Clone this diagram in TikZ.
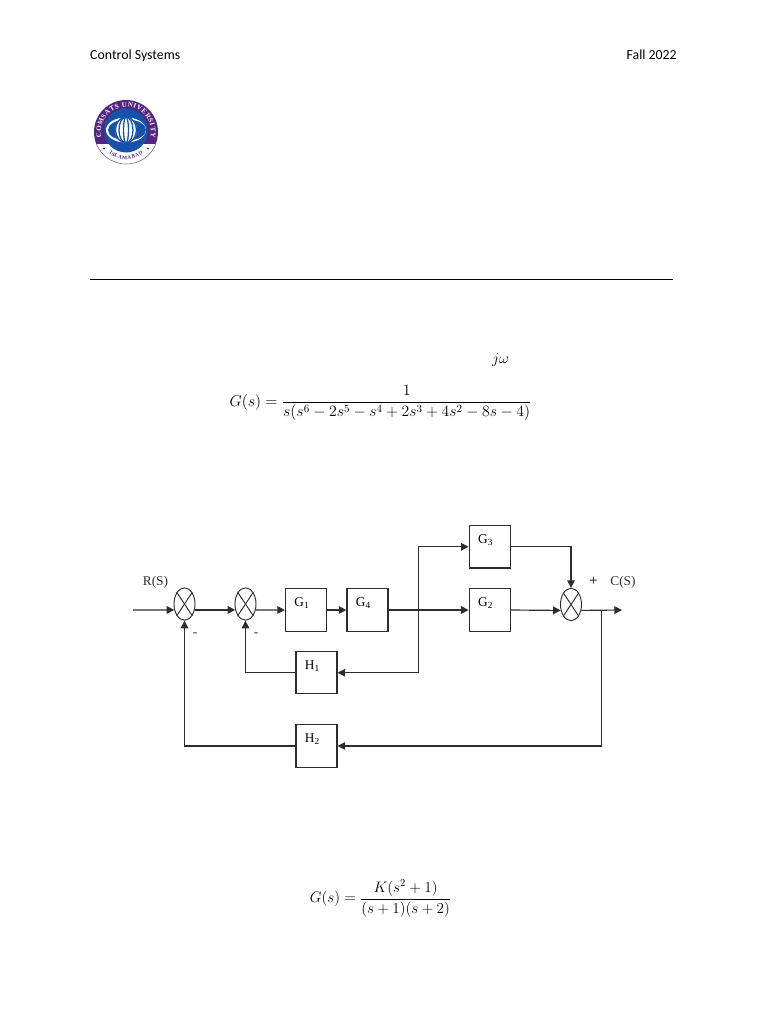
\documentclass[tikz,border=0pt]{standalone}
\usepackage{amsmath,amssymb}
\usepackage{fontspec}
\setmainfont{Carlito}
\newfontfamily\blockfont{Liberation Serif}
\usepackage{tikz}
\usetikzlibrary{shapes,arrows.meta,positioning,calc,decorations.text}
\definecolor{logoPurple}{RGB}{82,38,128}
\definecolor{logoBlue}{RGB}{22,82,168}
\definecolor{wireGray}{RGB}{45,45,45}
\newcommand{\blocktext}[2]{\raisebox{13.5pt}{#1\textsubscript{#2}}\kern7pt}
\tikzset{
  wire/.style={draw=wireGray, line width=1pt},
  flow/.style={wire, -{Triangle[length=6.5pt,width=6.5pt]}},
  blockbox/.style={draw=wireGray, line width=1pt, minimum width=1.23cm, minimum height=1.27cm,
    inner sep=0pt, font=\blockfont\fontsize{11.4}{13}\selectfont},
  sumnode/.style={ellipse, draw=wireGray, line width=0.8pt, minimum width=0.63cm, minimum height=0.97cm, inner sep=0pt},
  tag/.style={font=\blockfont\fontsize{11.4}{13}\selectfont, text=wireGray},
  eqn/.style={font=\fontsize{14.4}{17}\selectfont, transform shape}
}
\begin{document}
\begin{tikzpicture}[x=0.03cm, y=-0.03cm]
  \useasboundingbox (0,0) rectangle (768,1024);
  % Page header
  \node[anchor=base west, inner sep=0pt, font=\fontsize{11.8}{14}\selectfont] (course) at (90,59.5) {Control Systems};
  \node[anchor=base east, inner sep=0pt, font=\fontsize{11.8}{14}\selectfont] (term) at (677,59.5) {Fall 2022};
  \coordinate (ruleL) at (90,279.5);
  \coordinate (ruleR) at (673,279.5);
  \draw[line width=0.7pt] (ruleL) -- (ruleR);
  % Logo
  \begin{scope}[shift={(126,132)}, y=0.03cm]
    \fill[logoPurple] (0,0) circle (32);
    \fill[white] (-29.5,-12) arc (202:338:32) -- cycle;
    \draw[logoPurple!70, line width=0.5pt] (-29.5,-12) arc (202:338:32);
    \fill[logoBlue] (0,1.5) circle (22);
    \fill[white] (0,2) ellipse [x radius=20, y radius=12.5];
    \fill[logoBlue] (1,2) ellipse [x radius=19, y radius=10.5];
    \fill[white] (0,2) ellipse [x radius=11, y radius=13];
    \foreach \rx in {2.5,7,10.5} {
      \draw[logoBlue, line width=1.1pt] (0,2) ellipse [x radius=\rx, y radius=13];
    }
    \fill[logoPurple] (-22,-16.5) circle (1.1);
    \fill[logoPurple] (22,-16.5) circle (1.1);
    \path[decorate, decoration={text along path, text align={fit to path},
      text={|\blockfont\bfseries\fontsize{6}{6}\selectfont\color{white}|COMSATS UNIVERSITY}}]
      (0,0) ++(192:25) arc (192:-12:25);
    \path[decorate, decoration={text along path, text align={fit to path},
      text={|\blockfont\bfseries\fontsize{4.5}{5}\selectfont\color{logoPurple}|ISLAMABAD}}]
      (0,0) ++(232:27.5) arc (232:308:27.5);
  \end{scope}
  % Formulas
  \node[eqn, scale=0.9] (jw) at (500.5,360) {$j\omega$};
  \node[eqn, scale=0.935] (plantA) at (380.5,403) {$G(s)=\dfrac{1}{s(s^6-2s^5-s^4+2s^3+4s^2-8s-4)}$};
  \node[eqn, scale=0.9] (plantB) at (380.5,898.5) {$G(s)=\dfrac{K(s^2+1)}{(s+1)(s+2)}$};
  % Blocks
  \node[sumnode] (sum1) at (184.5,604) {};
  \node[sumnode] (sum2) at (245.5,604) {};
  \node[sumnode] (sum3) at (571,604.5) {};
  \node[blockbox] (G1) at (306,610) {\blocktext{G}{1}};
  \node[blockbox] (G4) at (367.5,610) {\blocktext{G}{4}};
  \node[blockbox] (G3) at (489.7,546.8) {\blocktext{G}{3}};
  \node[blockbox] (G2) at (489.7,610) {\blocktext{G}{2}};
  \node[blockbox] (H1) at (316.5,672.7) {\blocktext{H}{1}};
  \node[blockbox] (H2) at (316.5,746) {\blocktext{H}{2}};
  \foreach \s in {sum1,sum2,sum3} {
    \draw[wireGray, line width=0.8pt] (\s.north west) -- (\s.south east);
    \draw[wireGray, line width=0.8pt] (\s.north east) -- (\s.south west);
  }
  % Free ends and branch points
  \coordinate (input) at (133,610);
  \coordinate (output) at (622,610);
  \coordinate (split) at (418.3,610);
  \coordinate (tap) at (601.7,610);
  % Arrows
  \draw[flow] (input) -- (sum1.210);
  \draw[flow] (sum1.-30) -- (sum2.210);
  \draw[flow] (sum2.-30) -- (G1.west);
  \draw[flow] (G1) -- (G4);
  \draw[flow] (G4) -- (G2);
  \draw[flow] (split) |- (G3.west);
  \draw[flow] (split) |- (H1.east);
  \draw[flow] (G3.east) -| (sum3.north);
  \draw[flow] (G2.east) -- (sum3.210);
  \draw[flow] (sum3.-30) -- (output);
  \draw[flow] (tap) |- (H2.east);
  \draw[flow] (H1.west) -| (sum2.south);
  \draw[flow] (H2.west) -| (sum1.south);
  % Labels
  \node[tag] (rs) at (155.5,582) {R(S)};
  \node[tag] (cs) at (623,582.5) {C(S)};
  \node[tag, font=\blockfont\bfseries\fontsize{12.5}{13}\selectfont] (plus) at (593.5,581) {+};
  \node[tag] (minus1) at (195,635) {-};
  \node[tag] (minus2) at (256,635) {-};
\end{tikzpicture}
\end{document}
